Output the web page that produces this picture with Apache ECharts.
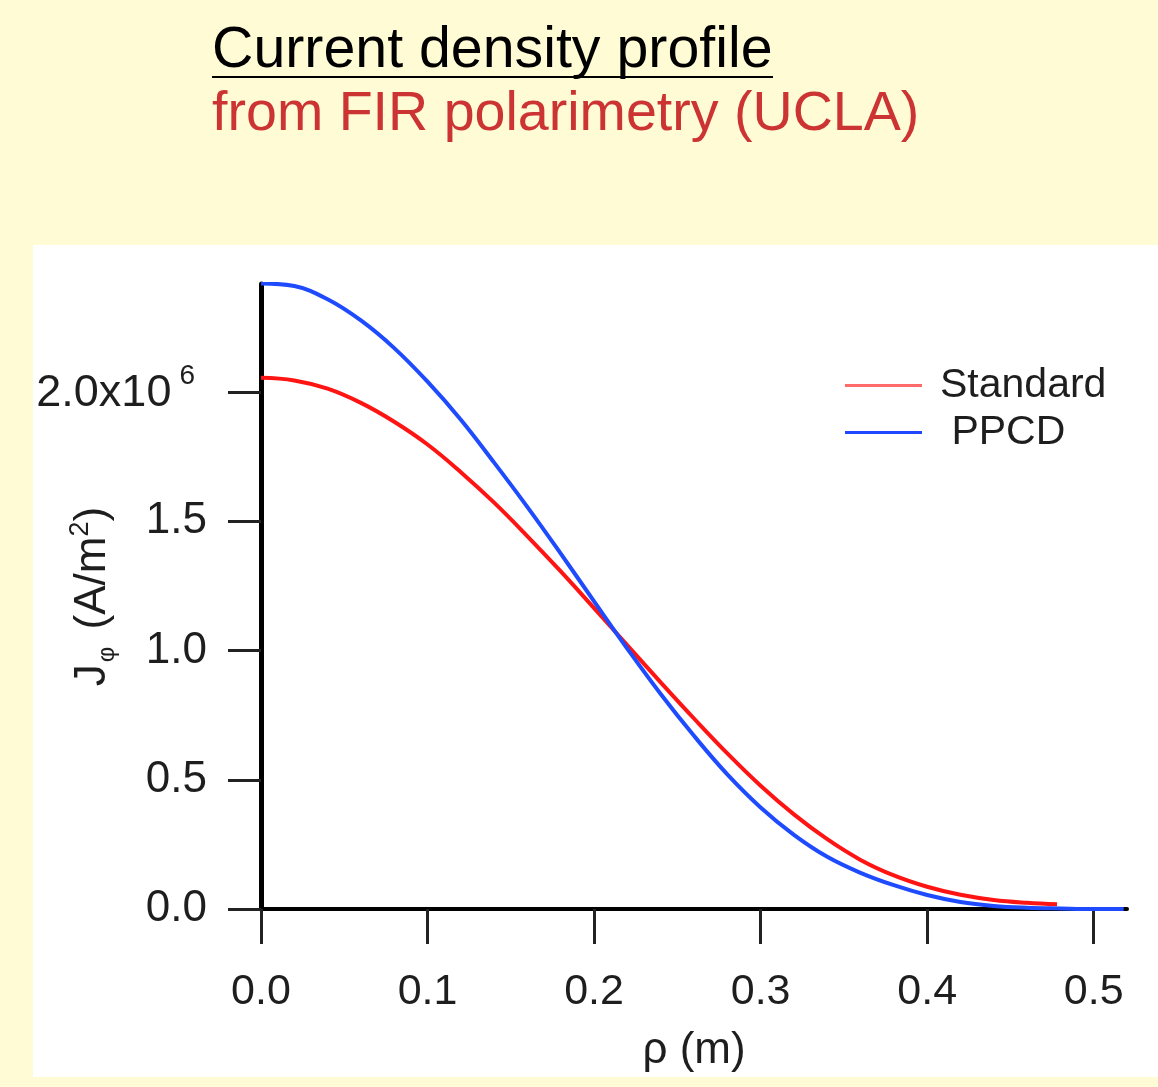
<!DOCTYPE html>
<html>
<head>
<meta charset="utf-8">
<script src="https://cdn.jsdelivr.net/npm/echarts@6/dist/echarts.min.js"></script>
<style>
html,body{margin:0;padding:0;background:#fffbd5;}
#chart{width:1158px;height:1087px;}
</style>
</head>
<body>
<div id="chart"></div>
<script>
// rho (m)
const rhoPPCD = [0.00,0.02,0.04,0.06,0.08,0.10,0.12,0.14,0.16,0.18,0.20,0.22,0.24,0.26,0.28,0.30,0.32,0.34,0.36,0.38,0.40,0.42,0.44,0.46,0.48,0.50,0.518];
// J_phi in units of 1e6 A/m^2
const jPPCD   = [2.420,2.410,2.359,2.277,2.170,2.040,1.893,1.727,1.555,1.375,1.190,1.007,0.832,0.670,0.521,0.393,0.287,0.202,0.140,0.092,0.054,0.027,0.012,0.005,0.002,0.000,0.000];
const rhoStd  = [0.00,0.02,0.04,0.06,0.08,0.10,0.12,0.14,0.16,0.18,0.20,0.22,0.24,0.26,0.28,0.30,0.32,0.34,0.36,0.38,0.40,0.42,0.44,0.46,0.478];
const jStd    = [2.055,2.045,2.013,1.958,1.885,1.797,1.690,1.572,1.442,1.306,1.164,1.020,0.877,0.737,0.602,0.477,0.366,0.270,0.190,0.130,0.086,0.055,0.035,0.024,0.018];
const xTicks = [0,0.1,0.2,0.3,0.4,0.5];
const yTicks = [0,0.5,1.0,1.5,2.0];
const seriesNames = ['Standard',' PPCD'];
const titleText = 'Current density profile';
const subtitleText = 'from FIR polarimetry (UCLA)';

const ctx = document.createElement('canvas').getContext('2d');
function fit(text, family, width){ ctx.font = '100px ' + family; return 100*width/ctx.measureText(text).width; }
const titleFont = '"Liberation Sans", Arial, sans-serif';
const tSize = fit(titleText, titleFont, 561);
const sSize = fit(subtitleText, titleFont, 708);

const chart = echarts.init(document.getElementById('chart'));
const axisFont = '"Liberation Sans", Arial, Helvetica, sans-serif';
const txt = '#1e1e1e';
chart.setOption({
  backgroundColor: '#fffbd5',
  animation: false,
  graphic: [
    {type:'rect', left:33, top:245, z:-10, silent:true, shape:{width:1125, height:832}, style:{fill:'#ffffff'}},
    {type:'text', left:212, top:74 - tSize*0.9, style:{text:titleText, font: tSize.toFixed(1)+'px '+titleFont, fill:'#000'}},
    {type:'line', shape:{x1:212, y1:77, x2:773, y2:77}, style:{stroke:'#000', lineWidth:2}},
    {type:'text', left:212, top:137 - sSize*0.9, style:{text:subtitleText, font: sSize.toFixed(1)+'px '+titleFont, fill:'#cc3333'}}
  ],
  grid: {left:261, top:284, right:31, bottom:178, containLabel:false, outerBoundsMode:'none'},
  legend: {
    left: 840, top: 360, orient:'vertical',
    itemWidth: 77, itemHeight: 3, itemGap: 6,
    textStyle:{fontSize:41, fontFamily:axisFont, color:txt, lineHeight:40, padding:[0,0,0,13]},
    data: [
      {name:seriesNames[0], icon:'rect', itemStyle:{color:'#ff6b6b'}},
      {name:seriesNames[1], icon:'rect', itemStyle:{color:'#2046ff'}}
    ]
  },
  xAxis: {
    type:'value', min:0, max:0.52,
    name:'ρ (m)', nameLocation:'middle', nameGap:120, nameMoveOverlap:false,
    nameTextStyle:{fontSize:44, fontFamily:axisFont, color:txt},
    axisLine:{lineStyle:{color:'#000', width:4}},
    axisTick:{length:35, lineStyle:{color:'#222', width:3}, customValues: xTicks},
    axisLabel:{margin:62, fontSize:43, fontFamily:axisFont, color:txt, customValues: xTicks,
      formatter: v => v.toFixed(1)},
    splitLine:{show:false}
  },
  yAxis: {
    type:'value', min:0, max:2.418,
    name:'{a|J}{sub|φ}{a| (A/m}{sup|2}{a|)}', nameLocation:'middle', nameGap:142, nameRotate:90, nameMoveOverlap:false,
    nameTextStyle:{fontSize:44, fontFamily:axisFont, color:txt,
      rich:{
        a:{fontSize:44, fontFamily:axisFont, color:txt, lineHeight:52, verticalAlign:'middle'},
        sub:{fontSize:24, fontFamily:axisFont, color:txt, lineHeight:52, verticalAlign:'bottom', padding:[0,5,0,2]},
        sup:{fontSize:27, fontFamily:axisFont, color:txt, lineHeight:52, verticalAlign:'top'}
      }},
    axisLine:{lineStyle:{color:'#000', width:5}},
    axisTick:{length:33, lineStyle:{color:'#222', width:3}, customValues: yTicks},
    axisLabel:{margin:54, fontSize:44, fontFamily:axisFont, color:txt, customValues: yTicks,
      formatter: v => Math.abs(v-2) < 1e-9 ? '{b|2.0x10}{sup|6}' : '{a|' + v.toFixed(1) + '}',
      rich:{
        a:{fontSize:44, fontFamily:axisFont, color:txt, lineHeight:60, verticalAlign:'middle'},
        b:{fontSize:45, fontFamily:axisFont, color:txt, lineHeight:60, verticalAlign:'middle', padding:[4,0,0,0]},
        sup:{fontSize:28, fontFamily:axisFont, color:txt, lineHeight:28, verticalAlign:'top', padding:[0,12,0,8]}
      }},
    splitLine:{show:false}
  },
  series: [
    {name:seriesNames[0], type:'line', smooth:0.4, symbol:'none', z:3,
     lineStyle:{color:'#ff1414', width:4}, itemStyle:{color:'#ff1414'},
     data: rhoStd.map((r,i)=>[r, jStd[i]])},
    {name:seriesNames[1], type:'line', smooth:0.4, symbol:'none', z:4,
     lineStyle:{color:'#1f4bff', width:4}, itemStyle:{color:'#1f4bff'},
     data: rhoPPCD.map((r,i)=>[r, jPPCD[i]])}
  ]
});
</script>
</body>
</html>
